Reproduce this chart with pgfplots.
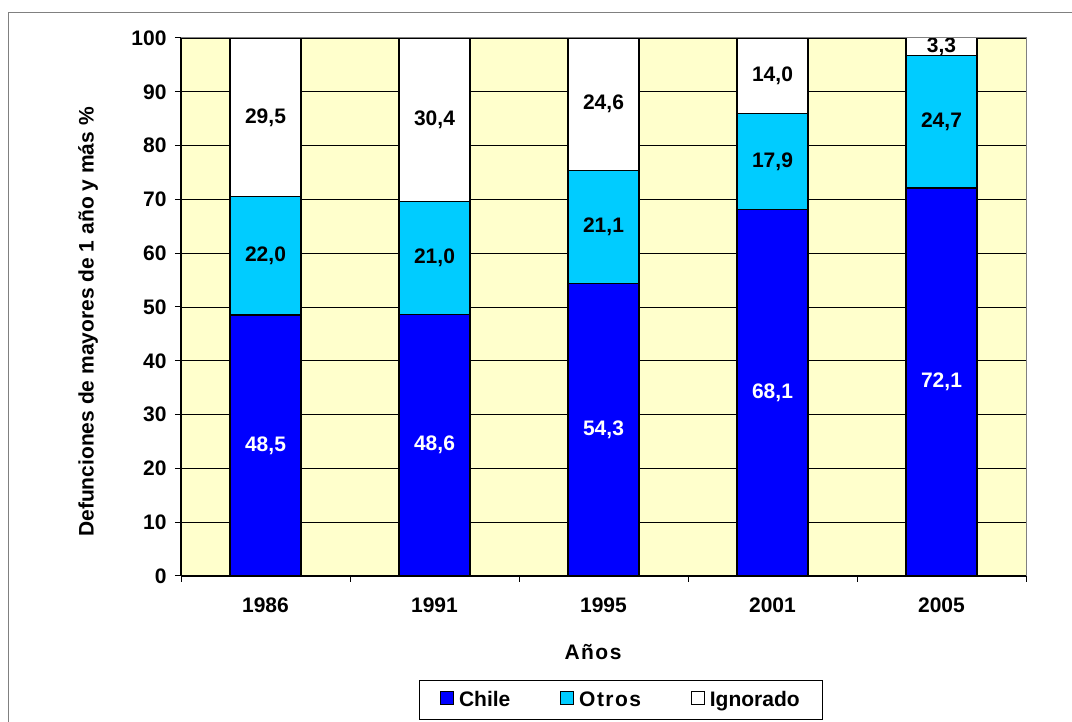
\documentclass[border=0pt]{standalone}
\usepackage{fontspec}
\setmainfont{Liberation Sans}
\newfontfamily\spaced[LetterSpace=7]{Liberation Sans}
\usepackage{pgfplots}
\pgfplotsset{compat=1.18}
\definecolor{chile}{RGB}{0,0,255}
\definecolor{otros}{RGB}{0,204,255}
\definecolor{bgy}{RGB}{255,255,204}
\newcommand\cf{\bfseries\fontsize{21}{25}\selectfont}
\pgfplotsset{
  midlabel/.style={
    nodes near coords={\pgfmathprintnumber[fixed,fixed zerofill,precision=1,use comma]{\pgfplotspointmeta}},
    nodes near coords align={anchor=center},
    every node near coord/.style={font=\cf, text=#1, anchor=center},
  },
  lgsq/.style={legend image code/.code={\draw[##1,draw=black,line width=0.8pt] (0pt,-5pt) rectangle (13pt,8pt);}},
}
\begin{document}
\begin{tikzpicture}
\useasboundingbox (0,0) rectangle (1072pt,722pt);
\draw[black!50, line width=1pt] (8pt,-20pt) rectangle (1090pt,709pt);
\begin{axis}[
  at={(181pt,146pt)}, anchor=south west,
  scale only axis, width=845pt, height=538pt,
  xmin=-0.5, xmax=4.5, ymin=0, ymax=100,
  clip=false,
  ybar stacked, bar width=71pt,
  axis background/.style={fill=bgy},
  axis x line*=bottom, axis y line*=left,
  axis line style={-, black, line width=1.2pt},
  xtick={0,...,4}, xticklabels={1986,1991,1995,2001,2005},
  major x tick style={draw=none},
  minor xtick={-0.5,0.5,...,4.5},
  ytick={0,10,...,100},
  tick align=outside, major tick length=6pt, minor tick length=6pt,
  tick style={black, line width=1pt},
  ymajorgrids, major grid style={black, line width=0.8pt},
  /pgf/number format/assume math mode=true,
  tick label style={font=\cf},
  xticklabel style={yshift=-12pt},
  yticklabel style={xshift=-5pt},
  point meta=explicit,
  legend columns=3,
  legend style={at={(axis description cs:0.5207,-0.1933)}, anchor=north, draw=black, line width=0.8pt, font=\cf,
    inner xsep=21pt, inner ysep=9pt,
    /tikz/every odd column/.append style={column sep=3pt},
    /tikz/every even column/.append style={column sep=48pt}},
]
\addplot[fill=chile, draw=black, line width=1.2pt, lgsq, midlabel=white] coordinates {
  (0,48.5) [48.5] (1,48.6) [48.6] (2,54.3) [54.3] (3,68.1) [68.1] (4,72.1) [72.1]};
\addplot[fill=otros, draw=black, line width=1.2pt, lgsq, midlabel=black] coordinates {
  (0,22.0) [22.0] (1,21.0) [21.0] (2,21.1) [21.1] (3,17.9) [17.9] (4,24.7) [24.7]};
\addplot[fill=white, draw=black, line width=1.2pt, lgsq, midlabel=black] coordinates {
  (0,29.5) [29.5] (1,30.4) [30.4] (2,24.6) [24.6] (3,14.0) [14.0] (4,3.3) [3.3]};
\legend{Chile,{\spaced Otros},Ignorado}
\end{axis}
\draw[black!50, line width=1pt] (181pt,684pt) -- (1026pt,684pt) -- (1026pt,146pt);
\node[rotate=90, font=\cf] at (88pt,400pt) {Defunciones de mayores de 1 año y más \%};
\node[font=\cf] at (593pt,70pt) {\spaced Años};
\end{tikzpicture}
\end{document}
